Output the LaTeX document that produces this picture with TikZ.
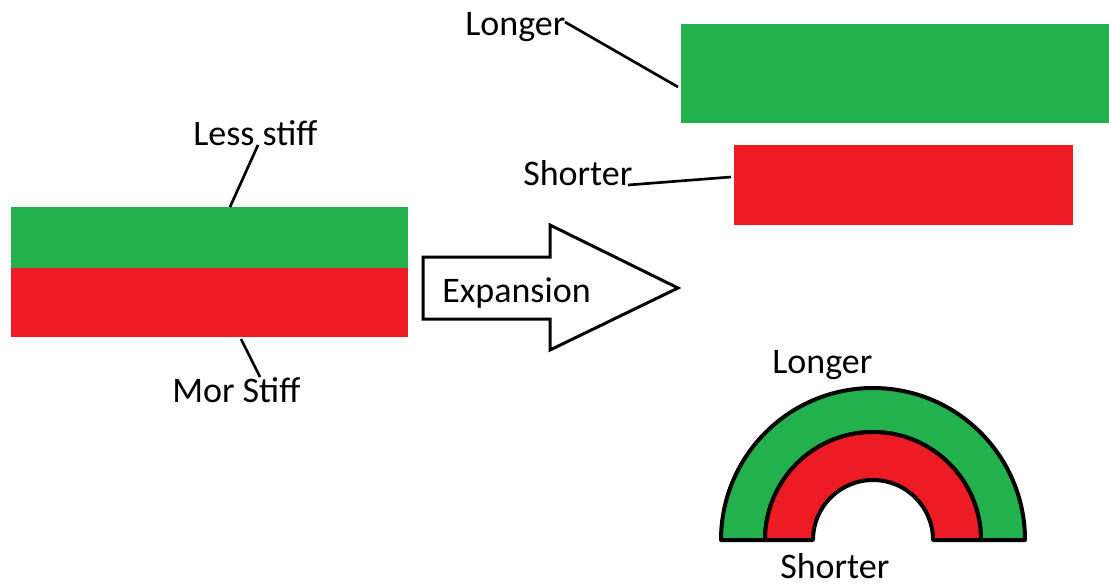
\documentclass[tikz,border=0pt]{standalone}
\usepackage{fontspec}
\setmainfont{Carlito}
\definecolor{pgreen}{HTML}{22B14C}
\definecolor{pred}{HTML}{ED1C24}
\begin{document}
\begin{tikzpicture}[x=0.75pt,y=0.75pt,
  lbl/.style={font=\fontsize{27}{32}\selectfont, inner sep=0pt, anchor=base west},
  leader/.style={line width=2pt},
  outline/.style={draw=black, line width=3pt, line join=round},
  bigarrow/.style={draw=black, line width=2.25pt, line join=miter, fill=white}]
\useasboundingbox (0,0) rectangle (1109,-586);
\fill[white] (0,0) rectangle (1109,-586);

% left bimetal strip
\fill[pgreen] (11,-207) rectangle (408,-268);
\fill[pred] (11,-268) rectangle (408,-337);
\coordinate (greentop) at (230,-207);
\coordinate (redbottom) at (241,-339);
\node[lbl] (lessstiff) at (193,-145) {Less stiff};
\coordinate (lessend) at (258,-145);
\node[lbl] (morstiff) at (172,-402) {Mor Stiff};
\coordinate (morend) at (260,-377);
\draw[leader] (lessend) -- (greentop);
\draw[leader] (redbottom) -- (morend);

% expansion arrow
\draw[bigarrow] (423,-257) -- (550,-257) -- (550,-225) -- (678,-288) -- (550,-350) -- (550,-319) -- (423,-319) -- cycle;
\node[lbl] (expansion) at (442,-302) {Expansion};

% separated strips
\fill[pgreen] (681,-24) rectangle (1109,-123);
\fill[pred] (734,-145) rectangle (1073,-225);
\node[lbl] (longerA) at (465,-35) {Longer};
\coordinate (longerAend) at (565,-22);
\coordinate (greenleft) at (678,-87);
\draw[leader] (longerAend) -- (greenleft);
\node[lbl] (shorterA) at (523,-185) {Shorter};
\coordinate (shorterAend) at (628,-185);
\coordinate (redleft) at (731,-177);
\draw[leader] (shorterAend) -- (redleft);

% bent strip
\path[fill=pgreen, outline] (721,-540) arc[start angle=180, end angle=0, radius=152] -- (981,-540) arc[start angle=0, end angle=180, radius=108] -- cycle;
\path[fill=pred, outline] (765,-540) arc[start angle=180, end angle=0, radius=108] -- (933,-540) arc[start angle=0, end angle=180, radius=60] -- cycle;
\node[lbl] (longerB) at (772,-373) {Longer};
\node[lbl] (shorterB) at (780,-578) {Shorter};
\end{tikzpicture}
\end{document}
